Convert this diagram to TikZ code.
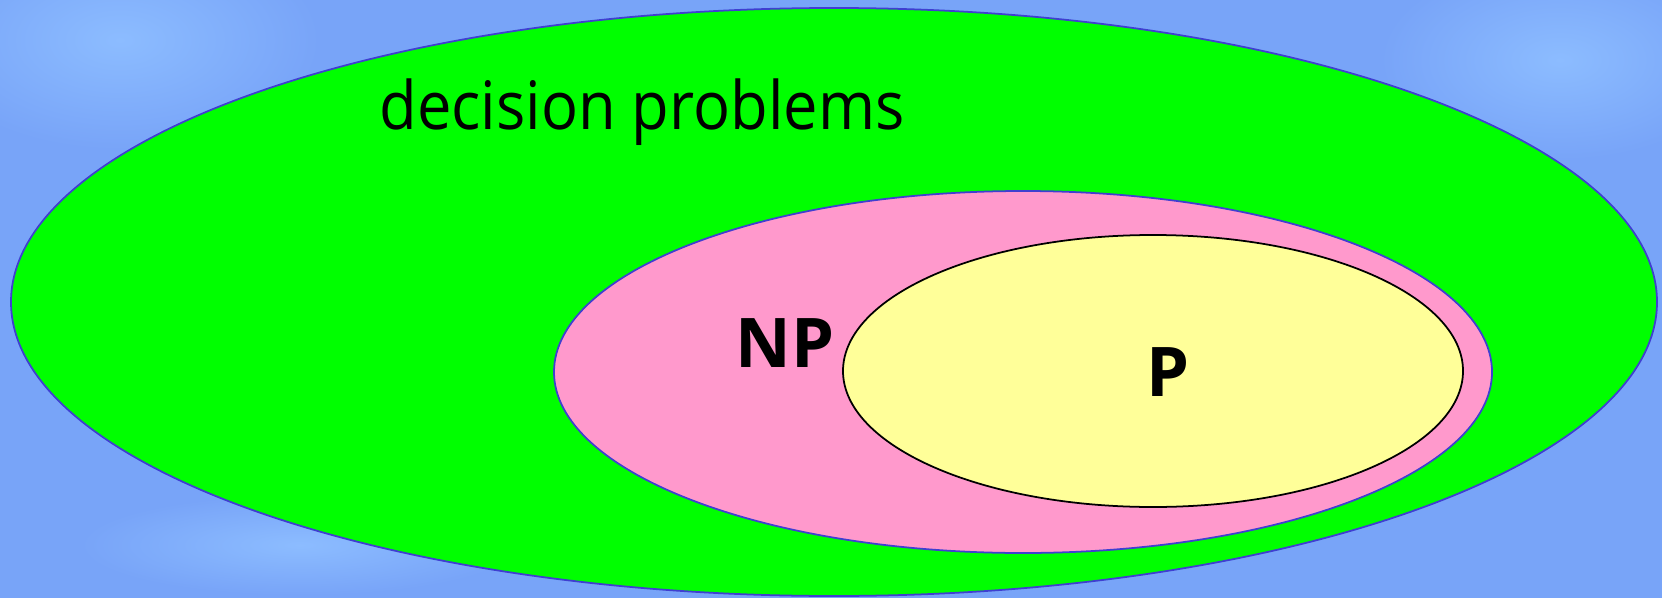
\documentclass[tikz,border=0pt]{standalone}
\usepackage{fontspec}
\setmainfont{Open Sans}
\definecolor{skyblue}{HTML}{78A4F8}
\definecolor{skylight}{HTML}{8CBCFF}
\definecolor{setgreen}{HTML}{00FF00}
\definecolor{setpink}{HTML}{FF99CC}
\definecolor{setyellow}{HTML}{FFFF99}
\definecolor{rimblue}{HTML}{3F3FD0}
\begin{document}
\begin{tikzpicture}[x=0.02cm,y=-0.02cm,
    setlabel/.style={text=black,inner sep=0pt,font=\fontsize{38}{40}\selectfont}]
    % background
    \useasboundingbox (0,0) rectangle (1662,598);
    \path [fill=skyblue] (0,0) rectangle (1662,598);
    \path [inner color=skylight,outer color=skyblue] (120,40) ellipse [x radius=200,y radius=110];
    \path [inner color=skylight,outer color=skyblue] (1560,60) ellipse [x radius=180,y radius=100];
    \path [inner color=skylight,outer color=skyblue] (300,545) ellipse [x radius=220,y radius=50];
    
    % the three sets
    \draw [fill=setgreen,draw=rimblue,line width=1pt] (834,302) ellipse [x radius=823,y radius=294];
    \draw [fill=setpink,draw=rimblue,line width=1pt] (1023,372) ellipse [x radius=469,y radius=181];
    \draw [fill=setyellow,draw=black,line width=1pt] (1153,371) ellipse [x radius=310,y radius=136];
    
    \node [setlabel,anchor=base,xscale=0.92] (decision) at (642,130) {decision problems};
    \node [setlabel,font=\fontsize{39}{42}\selectfont\bfseries] (np) at (785,343) {NP};
    \node [setlabel,font=\fontsize{39}{42}\selectfont\bfseries] (p) at (1168,372) {P};
    
\end{tikzpicture}
\end{document}
